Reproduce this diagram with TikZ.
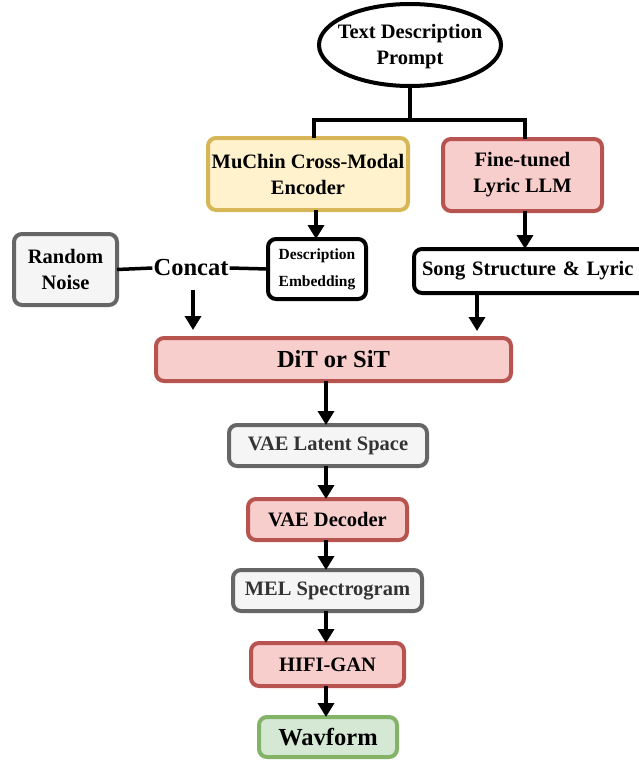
\documentclass[tikz,border=0pt]{standalone}
\usepackage{fontspec}
\setmainfont{Liberation Serif}
\usetikzlibrary{arrows.meta,shapes.geometric}
\definecolor{redfill}{HTML}{F8CECC}
\definecolor{redline}{HTML}{B85450}
\definecolor{yelfill}{HTML}{FFF2CC}
\definecolor{yelline}{HTML}{D6B656}
\definecolor{grayfill}{HTML}{F5F5F5}
\definecolor{grayline}{HTML}{666666}
\definecolor{grayText}{HTML}{333333}
\definecolor{grnfill}{HTML}{D5E8D4}
\definecolor{grnline}{HTML}{82B366}
\tikzset{
  base/.style={rounded corners=8pt, line width=4pt, inner sep=0pt, outer sep=0pt, align=center,
    font=\bfseries\fontsize{20.5}{26}\selectfont},
  redbox/.style={base, draw=redline, fill=redfill},
  yelbox/.style={base, draw=yelline, fill=yelfill},
  graybox/.style={base, draw=grayline, fill=grayfill, text=grayText},
  grnbox/.style={base, draw=grnline, fill=grnfill},
  blkbox/.style={base, draw=black, fill=white},
  conn/.style={line width=3.5pt, draw=black},
  arr/.style={conn, -{Triangle[width=16pt,length=14pt]}},
}
\begin{document}
\begin{tikzpicture}[x=1pt,y=-1pt]
\useasboundingbox (0,0) rectangle (638,760);
\node[ellipse, draw=black, line width=4pt, fill=white, minimum width=182pt, minimum height=82pt, inner sep=0pt,
  label={[align=center, inner sep=0pt, yshift=-2pt, font=\bfseries\fontsize{20.5}{26}\selectfont]center:Text Description\\Prompt}] (prompt) at (410,45) {};
\node[yelbox, minimum width=200pt, minimum height=72pt] (enc) at (308,174) {MuChin Cross-Modal\\Encoder};
\node[redbox, minimum width=159pt, minimum height=72pt] (llm) at (522.5,175) {Fine-tuned\\Lyric LLM};
\node[blkbox, anchor=west, text width=232pt, align=left, inner xsep=8pt, minimum height=44pt] (song) at (414,271) {Song Structure \& Lyric};
\node[blkbox, minimum width=98pt, minimum height=60pt, font=\bfseries\fontsize{15.5}{27}\selectfont] (desc) at (317,269) {Description\\Embedding};
\node[graybox, text=black, minimum width=103pt, minimum height=71pt] (noise) at (65.5,269.5) {Random\\Noise};
\node[inner sep=1pt, font=\bfseries\fontsize{24.5}{28}\selectfont] (concat) at (191,268) {Concat};
\node[redbox, minimum width=355pt, minimum height=43pt, font=\bfseries\fontsize{24.5}{28}\selectfont] (dit) at (333.5,359.5) {DiT or SiT};
\node[graybox, minimum width=198pt, minimum height=41pt] (lat) at (328,445.5) {VAE Latent Space};
\node[redbox, minimum width=159pt, minimum height=41pt] (dec) at (327.5,519.5) {VAE Decoder};
\node[graybox, minimum width=189pt, minimum height=41pt] (mel) at (327.5,590.5) {MEL Spectrogram};
\node[redbox, minimum width=153pt, minimum height=43pt] (hifi) at (327.5,664.5) {HIFI-GAN};
\node[grnbox, minimum width=138pt, minimum height=40pt, font=\bfseries\fontsize{24.5}{28}\selectfont] (wav) at (328,737) {Wavform};
% helper coordinates
\coordinate (split) at (410,120);
\coordinate (encx) at (314,0);
\coordinate (llmx) at (525,0);
\coordinate (descx) at (316,0);
\coordinate (cx) at (326,0);
\coordinate (cc) at (193,290);
\coordinate (ss) at (477,294);
% prompt split
\draw[conn] (prompt.south) -- (split);
\draw[conn] (split) -| (enc.north -| encx);
\draw[conn] (split) -| (llm.north -| llmx);
% encoder / llm
\draw[arr] (enc.south -| descx) -- (desc.north -| descx);
\draw[arr] (llm.south -| llmx) -- (song.north -| llmx);
% concat
\draw[conn] (noise.east) -- (concat.west);
\draw[conn] (concat.east) -- (desc.west);
\draw[arr, shorten >=8pt] (cc) -- (dit.north -| cc);
\draw[arr, shorten >=7pt] (ss) -- (dit.north -| ss);
% chain
\draw[arr] (dit.south -| cx) -- (lat.north -| cx);
\draw[arr] (lat.south -| cx) -- (dec.north -| cx);
\draw[arr] (dec.south -| cx) -- (mel.north -| cx);
\draw[arr] (mel.south -| cx) -- (hifi.north -| cx);
\draw[arr] (hifi.south -| cx) -- (wav.north -| cx);
\end{tikzpicture}
\end{document}
